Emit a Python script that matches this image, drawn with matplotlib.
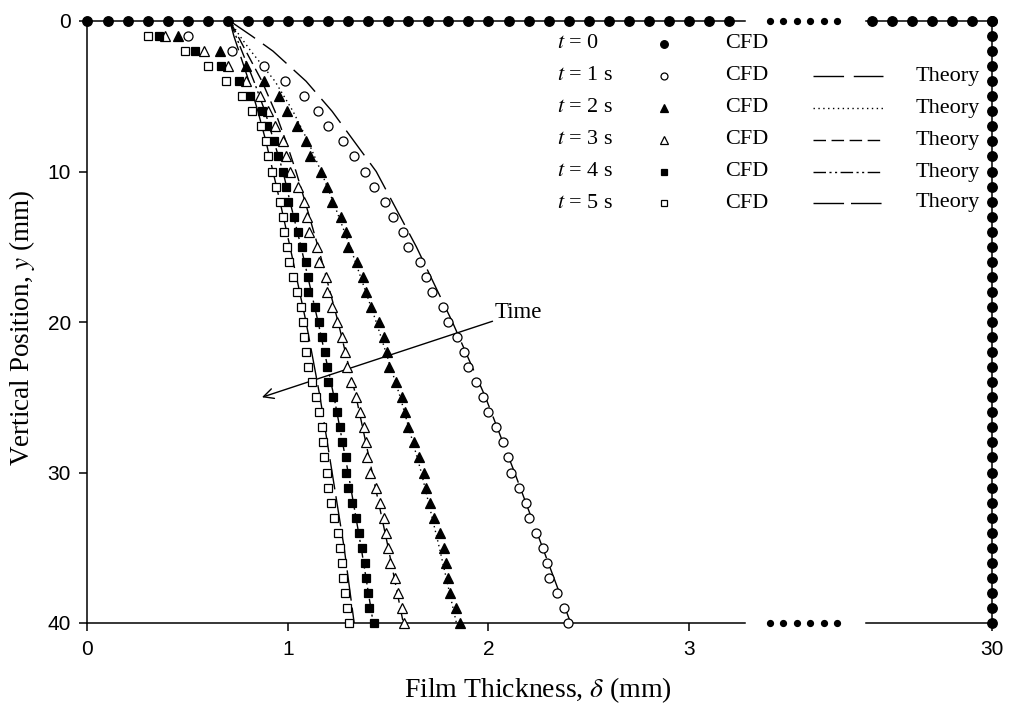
import numpy as np
import matplotlib
matplotlib.use("Agg")
import matplotlib.pyplot as plt
from matplotlib.lines import Line2D

plt.rcParams["mathtext.fontset"] = "stix"
SERIF = "Liberation Serif"
SANS = "Liberation Sans"

# ---- data -------------------------------------------------------------
y_cfd = np.arange(1, 41)  # vertical positions of CFD samples (mm)

cfd_t1 = [0.50, 0.72, 0.88, 0.985, 1.08, 1.15, 1.20, 1.275, 1.33, 1.385,
          1.43, 1.485, 1.525, 1.575, 1.60, 1.66, 1.69, 1.72, 1.775, 1.80,
          1.845, 1.88, 1.90, 1.94, 1.975, 2.00, 2.035, 2.07, 2.095, 2.11,
          2.15, 2.185, 2.20, 2.235, 2.27, 2.29, 2.30, 2.34, 2.375, 2.395]
cfd_t2 = [0.45, 0.66, 0.79, 0.88, 0.955, 0.995, 1.045, 1.09, 1.11, 1.165,
          1.195, 1.22, 1.265, 1.29, 1.30, 1.345, 1.375, 1.39, 1.415, 1.455,
          1.48, 1.495, 1.505, 1.54, 1.57, 1.585, 1.60, 1.63, 1.655, 1.68,
          1.69, 1.71, 1.73, 1.76, 1.78, 1.79, 1.80, 1.81, 1.84, 1.86]
cfd_t3 = [0.385, 0.58, 0.70, 0.79, 0.86, 0.90, 0.935, 0.975, 0.99, 1.01,
          1.05, 1.08, 1.095, 1.105, 1.145, 1.155, 1.19, 1.195, 1.22, 1.245,
          1.27, 1.285, 1.295, 1.315, 1.34, 1.36, 1.38, 1.39, 1.395, 1.41,
          1.44, 1.46, 1.48, 1.49, 1.50, 1.51, 1.535, 1.55, 1.57, 1.58]
cfd_t4 = [0.355, 0.535, 0.665, 0.755, 0.81, 0.87, 0.895, 0.93, 0.95, 0.975,
          0.99, 1.00, 1.03, 1.05, 1.07, 1.09, 1.10, 1.10, 1.135, 1.155,
          1.17, 1.185, 1.195, 1.20, 1.225, 1.245, 1.26, 1.27, 1.29, 1.29,
          1.30, 1.32, 1.34, 1.355, 1.37, 1.385, 1.39, 1.40, 1.405, 1.43]
cfd_t5 = [0.30, 0.485, 0.60, 0.69, 0.77, 0.82, 0.865, 0.89, 0.90, 0.92,
          0.94, 0.96, 0.975, 0.98, 0.995, 1.005, 1.025, 1.045, 1.065, 1.075,
          1.08, 1.09, 1.10, 1.12, 1.14, 1.155, 1.17, 1.175, 1.18, 1.195,
          1.20, 1.215, 1.23, 1.25, 1.26, 1.27, 1.275, 1.285, 1.295, 1.305]

y_th = [0, 1, 2, 4, 6, 8, 10, 12, 15, 20, 25, 30, 35, 40]
th_t1 = [0.71, 0.82, 0.925, 1.09, 1.22, 1.33, 1.44, 1.52, 1.64, 1.82, 1.985, 2.13, 2.27, 2.41]
th_t2 = [0.71, 0.76, 0.815, 0.935, 1.025, 1.10, 1.165, 1.225, 1.31, 1.44, 1.56, 1.665, 1.755, 1.84]
th_t3 = [0.71, 0.75, 0.79, 0.87, 0.935, 0.99, 1.04, 1.085, 1.15, 1.25, 1.34, 1.42, 1.50, 1.575]
th_t4 = [0.71, 0.74, 0.77, 0.83, 0.885, 0.93, 0.975, 1.01, 1.065, 1.15, 1.23, 1.30, 1.365, 1.425]
th_t5 = [0.71, 0.73, 0.755, 0.805, 0.85, 0.89, 0.925, 0.96, 1.01, 1.09, 1.16, 1.22, 1.28, 1.33]

# t = 0: the film covers the top wall and the right wall
t0_top_x = np.round(np.arange(0.0, 30.0001, 0.1), 1)
t0_side_y = np.arange(0, 41)

time_labels = ["$t$ = 0", "$t$ = 1 s", "$t$ = 2 s", "$t$ = 3 s", "$t$ = 4 s", "$t$ = 5 s"]
y_ticks = [0, 10, 20, 30, 40]
x_ticks_left = [0, 1, 2, 3]
x_ticks_right = [30]

# ---- styles -----------------------------------------------------------
mk = dict(color="black", markeredgewidth=0.9, linestyle="none", clip_on=False, zorder=4)
styles = [
    dict(marker="o", markersize=6.5, markerfacecolor="white"),
    dict(marker="^", markersize=7, markerfacecolor="black"),
    dict(marker="^", markersize=7, markerfacecolor="white"),
    dict(marker="s", markersize=6, markerfacecolor="black"),
    dict(marker="s", markersize=6, markerfacecolor="white"),
]
dashes = [(0, (22, 7)), (0, (1, 2.5)), (0, (9, 4)), (0, (9, 2.5, 1.5, 2.5, 1.5, 2.5)), (0, (22, 5))]
dot0 = dict(marker="o", markersize=6.8, color="black", linestyle="none", clip_on=False, zorder=5)

# ---- figure -----------------------------------------------------------
W, H = 1012, 708
fig = plt.figure(figsize=(W / 100, H / 100), dpi=100)

x0, x_break_l, x_break_r, x1 = 87.5, 745, 866, 992
y_top, y_bot = 21, 623
px_per_mm = 200.5

def fig_rect(l, r):
    return [l / W, (H - y_bot) / H, (r - l) / W, (y_bot - y_top) / H]

axL = fig.add_axes(fig_rect(x0, x_break_l))
axR = fig.add_axes(fig_rect(x_break_r, x1), sharey=axL)

axL.set_xlim(0, (x_break_l - x0) / px_per_mm)
axR.set_xlim(30 - (x1 - x_break_r) / px_per_mm, 30)
axL.set_ylim(40, 0)

cfd = [cfd_t1, cfd_t2, cfd_t3, cfd_t4, cfd_t5]
theory = [th_t1, th_t2, th_t3, th_t4, th_t5]
for vals, ls in zip(theory, dashes):
    axL.plot(vals, y_th, color="black", lw=1.0, linestyle=ls, zorder=3)
for vals, st in zip(cfd, styles):
    axL.plot(vals, y_cfd, **mk, **st)

lo, hi = axL.get_xlim()
sel = t0_top_x[(t0_top_x >= lo) & (t0_top_x <= hi)]
axL.plot(sel, np.zeros_like(sel), **dot0)
lo, hi = axR.get_xlim()
sel = t0_top_x[(t0_top_x >= lo - 1e-9) & (t0_top_x <= hi)]
axR.plot(sel, np.zeros_like(sel), **dot0)
axR.plot(np.full(len(t0_side_y), 30.0), t0_side_y, **dot0)

axL.spines["right"].set_visible(False)
axR.spines["left"].set_visible(False)
axL.set_xticks(x_ticks_left)
axR.set_xticks(x_ticks_right)
axL.set_yticks(y_ticks)
axR.tick_params(axis="y", left=False, labelleft=False)
for ax in (axL, axR):
    for s in ax.spines.values():
        s.set_linewidth(1.1)
    ax.tick_params(direction="out", length=6, width=1.1, labelsize=15, pad=6)
    for lab in ax.get_xticklabels() + ax.get_yticklabels():
        lab.set_fontfamily(SANS)
        lab.set_fontsize(15)

# break marks on the top and bottom axis lines
for yb in (y_top, y_bot):
    xs = np.linspace(770, 837, 6) / W
    fig.add_artist(Line2D(xs, np.full(6, (H - yb) / H), marker="o", markersize=4.2,
                          color="black", linestyle="none"))

# time arrow
axL.annotate("", xy=(0.87, 25.0), xytext=(2.02, 19.95),
             arrowprops=dict(arrowstyle="->", lw=1.0, color="black",
                             mutation_scale=18, shrinkA=0, shrinkB=0))
axL.text(2.03, 19.4, "Time", fontfamily=SERIF, fontsize=16.5, ha="left", va="center")

# axis titles
fig.text(538 / W, 1 - 690 / H, r"Film Thickness, $\delta$ (mm)", fontfamily=SERIF,
         fontsize=20, ha="center", va="center")
fig.text(22 / W, 1 - 328 / H, r"Vertical Position, $y$ (mm)", fontfamily=SERIF,
         fontsize=19.5, ha="center", va="center", rotation=90)

# legend table
ov = fig.add_axes([0, 0, 1, 1], zorder=10)
ov.set_xlim(0, W)
ov.set_ylim(H, 0)
ov.axis("off")
ov.patch.set_alpha(0)
row_y = [44, 76, 108, 140, 172, 203]
leg_markers = [dict(marker="o", markersize=5.5, markerfacecolor="black")] + [
    dict(st, markersize=st["markersize"] - 1.5) for st in styles]
for i, ry in enumerate(row_y):
    ov.text(557, ry, time_labels[i], fontfamily=SERIF, fontsize=16, ha="left", va="center")
    ov.plot([664], [ry], color="black", linestyle="none", markeredgewidth=0.9, **leg_markers[i])
    ov.text(725, ry, "CFD", fontfamily=SERIF, fontsize=16, ha="left", va="center")
    if i > 0:
        ov.plot([813, 883], [ry, ry], color="black", lw=1.0, linestyle=dashes[i - 1])
        ov.text(916, ry, "Theory", fontfamily=SERIF, fontsize=16, ha="left", va="center")

fig.savefig("out.png", dpi=100)
